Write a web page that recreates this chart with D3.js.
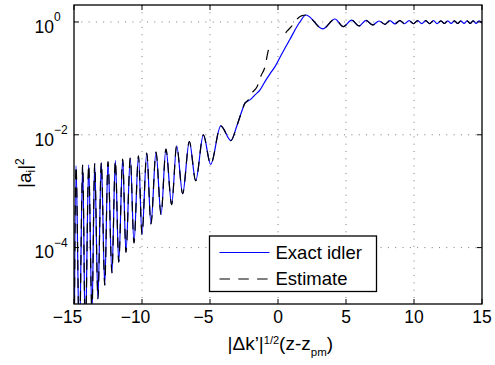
<!DOCTYPE html>
<html>
<head>
<meta charset="utf-8">
<script src="https://cdn.jsdelivr.net/npm/d3@7"></script>
<style>
  body { margin: 0; background: #fff; }
  svg { display: block; font-family: "Liberation Sans", Arial, Helvetica, sans-serif; }
</style>
</head>
<body>
<div id="chart"></div>
<script>
// ----------------------------------
// DATA
// ----------------------------------

// exact idler |a_i|^2, peaks and troughs along z
const exactX = [
  -15, -14.85, -14.61, -14.36, -14.17, -13.92, -13.68, -13.48, -13.24, -12.99, -12.74,
  -12.50, -12.21, -11.96, -11.71, -11.42, -11.18, -10.86, -10.59, -10.26, -10.00,
  -9.65, -9.34, -8.97, -8.60, -8.24, -7.82, -7.45, -7.01, -6.52, -6.05, -5.49, -4.95,
  -4.21, -3.46, -3.04, -2.67, -2.43, -2.06, -1.69, -1.32, -0.96, -0.59, -0.22, 0.15,
  0.51, 0.88, 1.25, 1.62, 2.06, 3.29, 4.19, 4.80, 5.42, 5.96, 6.47, 6.96, 7.43, 7.87,
  8.23, 8.60, 8.96, 9.30, 9.64, 9.96, 10.27, 10.57, 10.86, 11.15, 11.43, 11.70, 11.97,
  12.23, 12.48, 12.73, 12.97, 13.21, 13.45, 13.68, 13.91, 14.13, 14.35, 14.57, 14.78, 15
];
const exactY = [
  5e-7, 0.00283, 2e-6, 0.00294, 2.5e-6, 0.00294, 6.5e-6, 0.00307, 1.24e-5, 0.00324, 2.15e-5,
  0.00333, 3.57e-5, 0.00351, 5.5e-5, 0.00372, 8.26e-5, 0.00392, 1.21e-4, 0.00425, 1.7e-4,
  0.00474, 2.62e-4, 0.00494, 3.84e-4, 0.00558, 5.77e-4, 0.00639, 9.04e-4, 0.0076, 0.00153, 0.0100, 0.0030,
  0.0144, 0.0079, 0.0140, 0.0258, 0.0364, 0.0416, 0.051, 0.0626, 0.0878, 0.120, 0.162, 0.237,
  0.343, 0.494, 0.722, 1.01, 1.33, 0.752, 1.13, 0.826, 1.08, 0.85, 1.07, 0.885, 1.04, 0.91,
  1.06, 0.925, 1.06, 0.93, 1.06, 0.93, 1.055, 0.935, 1.055, 0.935, 1.055, 0.935, 1.05,
  0.94, 1.05, 0.94, 1.05, 0.94, 1.05, 0.94, 1.05, 0.94, 1.05, 0.94, 1.05, 0.96
];

// estimate where it leaves the exact curve; it is not drawn close to z = 0
const estLeftX = [-2.2, -1.91, -1.54, -1.25, -0.96, -0.74, -0.64];
const estLeftY = [0.041, 0.0554, 0.0708, 0.111, 0.160, 0.294, 0.37];
const estRightX = [0.56, 0.7, 0.96, 1.40, 1.76];
const estRightY = [0.64, 0.7, 0.816, 1.13, 1.30];

const xTicks = [-15, -10, -5, 0, 5, 10, 15];
const yTickExp = [0, -2, -4];
const legendLabels = ["Exact idler", "Estimate"];

// ----------------------------------
// LAYOUT
// ----------------------------------
const width = 495, height = 365;
const margin = {top: 5, right: 13, bottom: 61, left: 74};
const innerWidth = width - margin.left - margin.right,
      innerHeight = height - margin.top - margin.bottom;

const x = d3.scaleLinear().domain([-15, 15]).range([0, innerWidth]);
const y = d3.scaleLog().domain([1e-5, 2]).range([innerHeight, 0]);

const svg = d3.select('#chart').append('svg')
  .attr('width', width)
  .attr('height', height);

svg.append('defs').append('clipPath').attr('id', 'clip')
  .append('rect').attr('width', innerWidth).attr('height', innerHeight);

const g = svg.append('g')
  .attr('transform', `translate(${margin.left},${margin.top})`);

// grid
const grid = g.append('g')
  .attr('stroke', '#555')
  .attr('stroke-width', 0.8)
  .attr('stroke-dasharray', '1,6.3');

grid.selectAll('.vgrid')
  .data(xTicks.slice(1, -1))
  .enter().append('line')
  .attr('class', 'vgrid')
  .attr('x1', d => x(d)).attr('x2', d => x(d))
  .attr('y1', 0).attr('y2', innerHeight);

grid.selectAll('.hgrid')
  .data(yTickExp)
  .enter().append('line')
  .attr('class', 'hgrid')
  .attr('x1', 0).attr('x2', innerWidth)
  .attr('y1', d => y(Math.pow(10, d))).attr('y2', d => y(Math.pow(10, d)));

// ----------------------------------
// lines
// ----------------------------------
const exact = exactX.map((d, i) => [d, exactY[i]]);
const estLeft = estLeftX.map((d, i) => [d, estLeftY[i]]);
const estRight = estRightX.map((d, i) => [d, estRightY[i]]);
const estimateParts = [
  exact.filter(d => d[0] <= -2.43).concat(estLeft),
  estRight.concat(exact.filter(d => d[0] >= 2.06))
];

const line = d3.line()
  .x(d => x(d[0]))
  .y(d => y(d[1]))
  .curve(d3.curveMonotoneX);

const plot = g.append('g').attr('clip-path', 'url(#clip)');

plot.append('path')
  .datum(exact)
  .attr('d', line)
  .attr('fill', 'none')
  .attr('stroke', '#0000ff')
  .attr('stroke-width', 1.2);

plot.selectAll('.est')
  .data(estimateParts)
  .enter().append('path')
  .attr('class', 'est')
  .attr('d', line)
  .attr('fill', 'none')
  .attr('stroke', '#000')
  .attr('stroke-width', 1.2)
  .attr('stroke-dasharray', '10,8');

// ----------------------------------
// axes box and ticks
// ----------------------------------
const tickLen = 5;
const ticks = g.append('g').attr('stroke', '#000').attr('stroke-width', 1);

xTicks.forEach(t => {
  ticks.append('line').attr('x1', x(t)).attr('x2', x(t)).attr('y1', innerHeight).attr('y2', innerHeight - tickLen);
  ticks.append('line').attr('x1', x(t)).attr('x2', x(t)).attr('y1', 0).attr('y2', tickLen);
});
yTickExp.forEach(e => {
  const yy = y(Math.pow(10, e));
  ticks.append('line').attr('x1', 0).attr('x2', tickLen).attr('y1', yy).attr('y2', yy);
  ticks.append('line').attr('x1', innerWidth).attr('x2', innerWidth - tickLen).attr('y1', yy).attr('y2', yy);
});

g.append('rect')
  .attr('width', innerWidth)
  .attr('height', innerHeight)
  .attr('fill', 'none')
  .attr('stroke', '#000')
  .attr('stroke-width', 1.3);

// tick labels (negative numbers sit a bit left, as in the original)
g.selectAll('.xlab')
  .data(xTicks)
  .enter().append('text')
  .attr('class', 'xlab')
  .attr('x', d => x(d) + (d < 0 ? -6.5 : 0))
  .attr('y', innerHeight + 18.5)
  .attr('text-anchor', 'middle')
  .style('font-size', '17.5px')
  .text(d => d < 0 ? '\u2212' + Math.abs(d) : d);

const ylab = svg.selectAll('.ylab')
  .data(yTickExp)
  .enter().append('text')
  .attr('class', 'ylab')
  .attr('x', 34.5)
  .attr('y', d => margin.top + y(Math.pow(10, d)) + 10.8)
  .style('font-size', '17.5px');
ylab.append('tspan').text('10');
ylab.append('tspan')
  .attr('dy', -11.5)
  .style('font-size', '12px')
  .text(d => d < 0 ? '\u2212' + Math.abs(d) : d);

// axis titles
const xt = svg.append('text')
  .attr('x', 227.5)
  .attr('y', 350)
  .style('font-size', '19px');
xt.append('tspan').text('|\u0394k\u2019|');
xt.append('tspan').attr('dy', -6.5).style('font-size', '11px').text('1/2');
xt.append('tspan').attr('dy', 6.5).text('(z-z');
xt.append('tspan').attr('dy', 5.5).style('font-size', '11.5px').text('pm');
xt.append('tspan').attr('dy', -5.5).text(')');

const yt = svg.append('text')
  .attr('transform', 'translate(31,188) rotate(-90)')
  .style('font-size', '19px');
yt.append('tspan').text('|a');
yt.append('tspan').attr('dy', 4).style('font-size', '12px').text('i');
yt.append('tspan').attr('dy', -4).text('|');
yt.append('tspan').attr('dy', -7.5).style('font-size', '12px').text('2');

// ----------------------------------
// legend
// ----------------------------------
const legend = svg.append('g').attr('transform', 'translate(209.5,236)');
legend.append('rect')
  .attr('width', 167)
  .attr('height', 55.5)
  .attr('fill', '#fff')
  .attr('stroke', '#000')
  .attr('stroke-width', 1.3);

const items = legend.selectAll('.item')
  .data(legendLabels)
  .enter().append('g')
  .attr('class', 'item')
  .attr('transform', (d, i) => `translate(0,${16.5 + i * 26.5})`);

items.append('line')
  .attr('x1', 10).attr('x2', 60)
  .attr('stroke', (d, i) => i === 0 ? '#0000ff' : '#000')
  .attr('stroke-width', 1.2)
  .attr('stroke-dasharray', (d, i) => i === 0 ? null : '10.5,8.3');

items.append('text')
  .attr('x', 66)
  .attr('y', 6)
  .style('font-size', '18.5px')
  .text(d => d);
</script>
</body>
</html>
